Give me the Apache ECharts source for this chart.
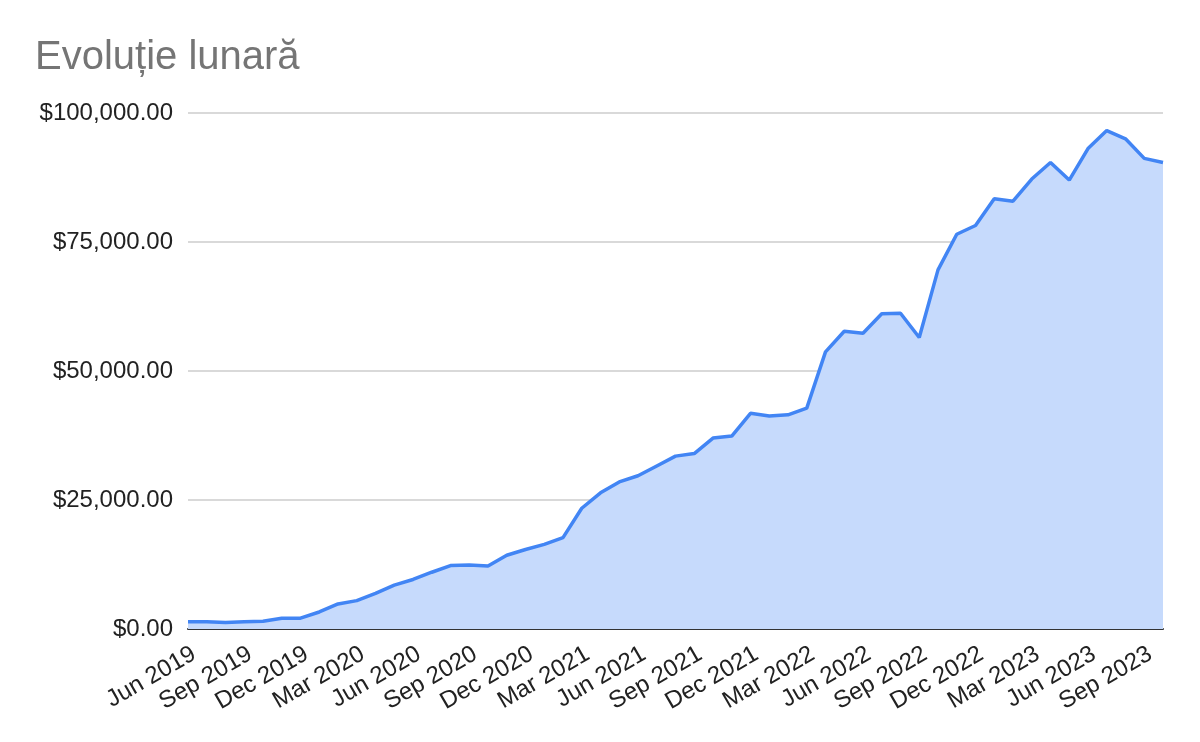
<!DOCTYPE html>
<html>
<head>
<meta charset="utf-8">
<script src="https://cdn.jsdelivr.net/npm/echarts@6/dist/echarts.min.js"></script>
<style>
  html, body { margin: 0; padding: 0; background: #fff; }
  #chart { width: 1200px; height: 742px; }
</style>
</head>
<body>
<div id="chart"></div>
<script>
// monthly points, Jun 2019 .. Oct 2023
const months = ['Jan', 'Feb', 'Mar', 'Apr', 'May', 'Jun', 'Jul', 'Aug', 'Sep', 'Oct', 'Nov', 'Dec']
const categories = []
for (let y = 2019, m = 5; categories.length < 53; m++) {
    if (m === 12) { m = 0; y++ }
    categories.push(months[m] + ' ' + y)
}
const values = [
    1400, 1400, 1250, 1400, 1500, 2100, 2100, 3300, 4850, 5500,
    6900, 8500, 9600, 11000, 12300, 12400, 12200, 14300, 15400, 16400,
    17700, 23400, 26400, 28500, 29700, 31600, 33500, 34000, 37000, 37400,
    41800, 41300, 41500, 42800, 53700, 57700, 57300, 61100, 61200, 56500,
    69600, 76500, 78200, 83400, 82900, 87200, 90400, 87000, 93100, 96600,
    95000, 91200, 90400
]
const yTicks = [0, 25000, 50000, 75000, 100000]

const fmt = v => '$' + v.toLocaleString('en-US', { minimumFractionDigits: 2, maximumFractionDigits: 2 })
const font = 'Arial, "Liberation Sans", sans-serif'

const myChart = echarts.init(document.getElementById('chart'))
const option = {
    animation: false,
    title: {
        text: 'Evoluție lunară',
        left: 30,
        top: 33,
        textStyle: { color: '#757575', fontSize: 40, fontWeight: 'normal', fontFamily: font }
    },
    grid: { left: 188, right: 37, top: 113, bottom: 113 },
    xAxis: {
        type: 'category',
        data: categories,
        boundaryGap: false,
        axisLine: { lineStyle: { color: '#333', width: 2 } },
        axisTick: { show: false },
        axisLabel: {
            interval: (i) => i % 3 === 0,
            rotate: 30,
            margin: 13,
            verticalAlign: 'top',
            color: '#222',
            fontSize: 24,
            fontFamily: font
        }
    },
    yAxis: {
        type: 'value',
        min: yTicks[0],
        max: yTicks[yTicks.length - 1],
        interval: 25000,
        axisLine: { show: false },
        axisTick: { show: false },
        splitLine: { lineStyle: { color: '#ccc', width: 1.5 } },
        axisLabel: {
            formatter: fmt,
            margin: 15,
            color: '#222',
            fontSize: 24,
            fontFamily: font
        }
    },
    series: [
        {
            type: 'line',
            data: values,
            symbol: 'none',
            lineStyle: { color: '#4285f4', width: 3.5 },
            areaStyle: { color: '#c6dafc', opacity: 1 },
            z: 3
        }
    ]
}
myChart.setOption(option)
</script>
</body>
</html>
